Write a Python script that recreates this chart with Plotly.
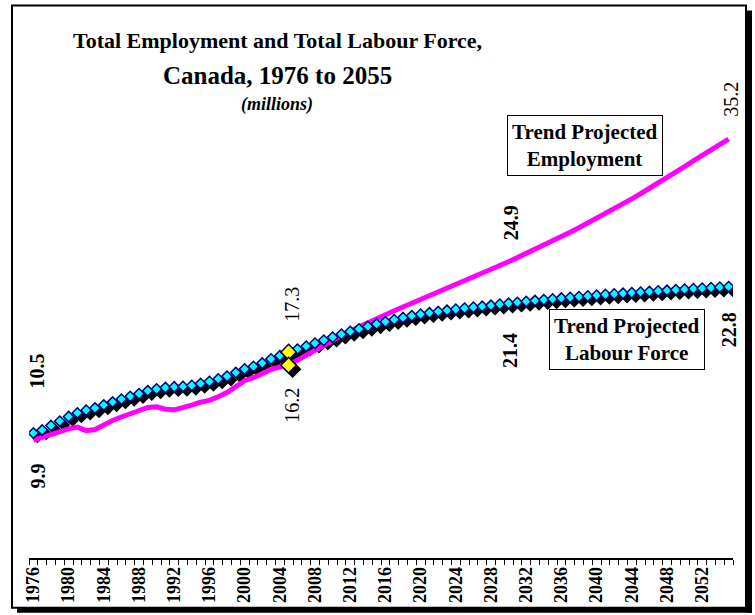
import plotly.graph_objects as go

# data (millions)
years = list(range(1976, 2056))
labour_force = [
    10.5, 10.75, 11.13, 11.5, 11.88, 12.19, 12.42, 12.6, 12.85, 13.1,
    13.35, 13.58, 13.8, 14.05, 14.2, 14.32, 14.38, 14.42, 14.5, 14.66,
    14.83, 15.05, 15.27, 15.58, 15.88, 16.1, 16.38, 16.72, 17.0, 17.3,
    17.55, 17.8, 18.05, 18.3, 18.55, 18.8, 19.03, 19.25, 19.46, 19.66,
    19.85, 20.03, 20.2, 20.35, 20.48, 20.6, 20.71, 20.81, 20.9, 20.99,
    21.07, 21.15, 21.23, 21.32, 21.4, 21.48, 21.56, 21.63, 21.7, 21.77,
    21.84, 21.9, 21.96, 22.02, 22.08, 22.14, 22.19, 22.24, 22.29, 22.34,
    22.39, 22.44, 22.49, 22.54, 22.59, 22.63, 22.67, 22.71, 22.76, 22.8,
]
employment = [
    9.9, 10.15, 10.4, 10.7, 10.85, 11.0, 10.7, 10.8, 11.2, 11.55,
    11.85, 12.1, 12.4, 12.65, 12.7, 12.5, 12.45, 12.6, 12.85, 13.1,
    13.25, 13.55, 13.9, 14.4, 14.9, 15.15, 15.5, 15.85, 16.05, 16.2,
    16.63, 17.06, 17.49, 17.91, 18.31, 18.7, 19.08, 19.44, 19.79, 20.13,
    20.46, 20.78, 21.09, 21.4, 21.71, 22.02, 22.33, 22.64, 22.96, 23.28,
    23.6, 23.93, 24.26, 24.58, 24.9, 25.24, 25.58, 25.93, 26.28, 26.64,
    27.0, 27.37, 27.75, 28.14, 28.53, 28.93, 29.34, 29.76, 30.18, 30.61,
    31.05, 31.5, 31.96, 32.42, 32.89, 33.37, 33.85, 34.34, 34.77, 35.2,
]
tick_years = list(range(1976, 2056, 4))
highlight_year = 2005

W, H = 755, 615
L, R, T, B = 29, 22, 82, 54
PW, PH = W - L - R, H - T - B
YMAX = 40
X0, X1 = years[0] - 0.5, years[-1] + 0.5
SHADOW = 4  # px offset of the drop shadow
FONT = "Liberation Serif, Times New Roman, serif"


def px(xp, yp):
    """pixel position -> paper coords"""
    return (xp - L) / PW, (H - B - yp) / PH


dx = SHADOW * (X1 - X0) / PW
dy = SHADOW * YMAX / PH

hi = years.index(highlight_year)

fig = go.Figure()

# drop shadows (on shifted axes x/y, drawn below)
fig.add_trace(go.Scatter(
    x=years, y=labour_force, mode="markers", xaxis="x", yaxis="y",
    marker=dict(symbol="diamond", size=8, color="black",
                line=dict(width=1.5, color="black")),
    hoverinfo="skip", showlegend=False))
fig.add_trace(go.Scatter(
    x=[highlight_year, highlight_year], y=[labour_force[hi], employment[hi]],
    mode="markers", xaxis="x", yaxis="y",
    marker=dict(symbol="diamond", size=12, color="black",
                line=dict(width=1.5, color="black")),
    hoverinfo="skip", showlegend=False))

# real series
fig.add_trace(go.Scatter(
    x=years, y=employment, mode="lines", xaxis="x2", yaxis="y2",
    line=dict(color="#ff00ff", width=5),
    name="Total Employment", showlegend=False))
fig.add_trace(go.Scatter(
    x=years, y=labour_force, mode="markers", xaxis="x2", yaxis="y2",
    marker=dict(symbol="diamond", size=8, color="#00ffff",
                line=dict(width=1.5, color="#000080")),
    name="Total Labour Force", showlegend=False))
fig.add_trace(go.Scatter(
    x=[highlight_year, highlight_year], y=[labour_force[hi], employment[hi]],
    mode="markers", xaxis="x2", yaxis="y2",
    marker=dict(symbol="diamond", size=12, color="#ffff00",
                line=dict(width=1.5, color="#000040")),
    showlegend=False))

# value labels (rotated)
label_specs = [
    # year, series, xshift, yshift, bold
    (1976, labour_force, 4, 62, True),
    (1976, employment, 5, -36, True),
    (2005, labour_force, 4, 48, False),
    (2005, employment, 4, -40, False),
    (2030, employment, 2, 39, True),
    (2030, labour_force, 2, -47, True),
    (2055, employment, 3, 40, False),
    (2055, labour_force, 0, -43, True),
]
for yr, series, xs, ys, bold in label_specs:
    v = series[years.index(yr)]
    txt = f"{v:.1f}"
    fig.add_annotation(
        x=yr, y=v, xref="x2", yref="y2", text=f"<b>{txt}</b>" if bold else txt,
        textangle=-90, showarrow=False, xshift=xs, yshift=ys,
        xanchor="center", yanchor="middle",
        font=dict(family=FONT, size=20, color="black"))

# boxed series labels
for text, (cx, cy) in [("Trend Projected<br>Employment", (585, 146)),
                       ("Trend Projected<br>Labour Force", (627, 341))]:
    ax, ay = px(cx, cy)
    fig.add_annotation(
        x=ax, y=ay, xref="paper", yref="paper", text=f"<b>{text}</b>",
        showarrow=False, align="center", bgcolor="white",
        xanchor="center", yanchor="middle",
        bordercolor="black", borderwidth=1, borderpad=4,
        font=dict(family=FONT, size=21, color="black"))

# title
for text, (cx, cy), size in [
        ("<b>Total Employment and Total Labour Force,</b>", (277, 40), 22),
        ("<b>Canada, 1976 to 2055</b>", (277, 75), 25),
        ("<b><i>(millions)</i></b>", (277, 105), 18)]:
    ax, ay = px(cx, cy)
    fig.add_annotation(
        x=ax, y=ay, xref="paper", yref="paper", text=text, showarrow=False,
        xanchor="center", yanchor="middle",
        font=dict(family=FONT, size=size, color="black"))

# outer frame with drop shadow
fx0, fy0 = px(12, 5)
fx1, fy1 = px(746, 611)
sx0, sy0 = px(746, 10)
sx1, sy1 = px(752, 616)
bx0, _ = px(17, 611)
fig.add_shape(type="rect", xref="paper", yref="paper", x0=fx0, y0=fy1,
              x1=fx1, y1=fy0, line=dict(color="black", width=2))
fig.add_shape(type="rect", xref="paper", yref="paper", x0=sx0, y0=sy1,
              x1=sx1, y1=sy0, fillcolor="black", line=dict(width=0))
fig.add_shape(type="rect", xref="paper", yref="paper", x0=bx0, y0=sy1,
              x1=sx1, y1=fy1, fillcolor="black", line=dict(width=0))

fig.update_layout(
    width=W, height=H,
    margin=dict(l=L, r=R, t=T, b=B),
    paper_bgcolor="white", plot_bgcolor="white",
    showlegend=False,
    xaxis=dict(range=[X0 - dx, X1 - dx], visible=False, fixedrange=True),
    yaxis=dict(range=[dy, YMAX + dy], visible=False, fixedrange=True),
    xaxis2=dict(
        overlaying="x", anchor="y2", side="bottom",
        range=[X0, X1], showgrid=False, zeroline=False,
        showline=True, linecolor="black", linewidth=1.5,
        tickmode="array", tickvals=tick_years,
        ticktext=[f"<b>{y}</b>" for y in tick_years],
        ticks="", tickangle=-90,
        tickfont=dict(family=FONT, size=18, color="black"),
        minor=dict(tickmode="array",
                   tickvals=[y - 0.5 for y in years] + [years[-1] + 0.5],
                   ticks="outside", ticklen=5, tickwidth=1,
                   tickcolor="black", showgrid=False),
    ),
    yaxis2=dict(overlaying="y", anchor="x2", range=[0, YMAX],
                visible=False, fixedrange=True),
)

fig.write_html("out.html", config={"displayModeBar": False},
               post_script="document.body.style.margin='0';")
